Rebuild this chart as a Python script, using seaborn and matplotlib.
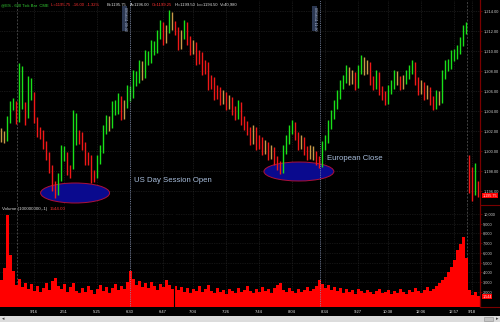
import numpy as np
import matplotlib
matplotlib.use("Agg")
import matplotlib.pyplot as plt
import seaborn as sns
from matplotlib.patches import Ellipse, Rectangle
from matplotlib.ticker import FixedLocator, FuncFormatter
from matplotlib.lines import Line2D

sns.set_theme(style="dark")
plt.rcParams['font.family'] = ['Liberation Sans', 'DejaVu Sans']

# ---------------- data (600 tick bars, ES futures) ----------------
bar_low = [1200.9, 1200.8, 1201.0, 1202.8, 1204.1, 1202.7, 1202.9, 1204.2, 1202.6, 1203.3,
           1205.1, 1202.8, 1201.4, 1201.2, 1200.2, 1199.1, 1197.8, 1196.0, 1195.3, 1195.6,
           1197.0, 1199.0, 1197.6, 1197.3, 1198.2, 1200.6, 1200.7, 1200.1, 1198.6, 1198.6,
           1196.8, 1196.9, 1197.3, 1198.7, 1199.8, 1201.7, 1202.0, 1202.3, 1203.6, 1203.7,
           1203.1, 1203.2, 1204.3, 1205.0, 1205.3, 1206.5, 1206.8, 1207.1, 1207.3, 1208.6,
           1208.8, 1209.6, 1209.8, 1211.2, 1210.6, 1210.8, 1211.8, 1212.1, 1211.6, 1210.1,
           1210.2, 1211.2, 1210.6, 1209.6, 1209.7, 1208.6, 1208.7, 1207.6, 1207.7, 1206.1,
           1206.2, 1205.1, 1205.2, 1204.6, 1204.7, 1204.1, 1204.2, 1203.6, 1203.1, 1203.2,
           1202.6, 1202.1, 1201.6, 1200.6, 1200.7, 1200.1, 1200.2, 1199.6, 1199.7, 1199.1,
           1199.2, 1198.6, 1198.1, 1197.7, 1197.8, 1199.7, 1200.7, 1201.7, 1201.1, 1200.1,
           1200.2, 1199.6, 1199.1, 1199.2, 1199.1, 1198.6, 1198.3, 1198.4, 1200.1, 1200.8,
           1202.2, 1203.2, 1204.2, 1205.2, 1206.2, 1206.8, 1206.6, 1206.7, 1206.1, 1206.3,
           1207.7, 1207.6, 1207.7, 1206.6, 1206.1, 1206.2, 1205.6, 1205.1, 1204.6, 1204.7,
           1205.7, 1206.2, 1206.6, 1206.1, 1206.2, 1206.7, 1207.2, 1207.7, 1206.6, 1205.6,
           1205.7, 1205.1, 1205.2, 1204.6, 1204.1, 1204.2, 1204.6, 1204.8, 1207.2, 1208.0,
           1208.2, 1209.0, 1209.2, 1209.7, 1210.5, 1211.7,
           1195.8, 1195.0, 1195.6, 1195.4]
bar_high = [1202.3, 1202.0, 1203.5, 1205.0, 1205.3, 1205.0, 1208.8, 1208.5, 1204.9, 1207.5,
            1207.3, 1205.9, 1203.4, 1202.4, 1202.1, 1201.0, 1199.9, 1198.6, 1197.0, 1197.8,
            1200.6, 1200.5, 1199.9, 1198.6, 1204.1, 1203.8, 1202.1, 1201.9, 1200.9, 1199.9,
            1199.6, 1198.1, 1199.6, 1200.6, 1202.6, 1203.6, 1203.5, 1205.0, 1205.1, 1205.8,
            1205.5, 1205.1, 1206.6, 1206.5, 1208.1, 1208.0, 1209.1, 1209.0, 1210.1, 1210.0,
            1211.1, 1211.0, 1212.1, 1213.1, 1212.9, 1212.6, 1214.1, 1213.9, 1213.0, 1212.4,
            1212.1, 1213.1, 1212.9, 1211.5, 1211.1, 1210.9, 1210.1, 1209.9, 1209.1, 1208.9,
            1207.6, 1207.4, 1206.6, 1206.4, 1206.1, 1205.9, 1205.6, 1205.4, 1204.5, 1205.1,
            1204.9, 1203.5, 1203.0, 1202.4, 1202.6, 1202.4, 1201.6, 1201.4, 1201.1, 1200.9,
            1200.6, 1200.4, 1199.5, 1199.0, 1200.6, 1201.6, 1202.6, 1203.1, 1202.9, 1201.9,
            1201.6, 1201.4, 1200.5, 1200.6, 1200.5, 1200.0, 1199.5, 1201.0, 1201.6, 1203.1,
            1204.1, 1205.1, 1206.1, 1207.1, 1207.6, 1208.6, 1208.4, 1208.1, 1207.9, 1208.6,
            1209.6, 1209.4, 1209.1, 1208.9, 1207.5, 1208.1, 1207.9, 1206.5, 1206.0, 1206.6,
            1207.1, 1208.1, 1208.0, 1207.5, 1207.6, 1208.1, 1208.6, 1209.1, 1208.9, 1207.4,
            1207.1, 1206.9, 1206.6, 1206.4, 1205.5, 1206.1, 1206.0, 1208.1, 1209.1, 1209.2,
            1210.1, 1210.2, 1210.6, 1211.4, 1212.6, 1212.9,
            1199.6, 1198.4, 1198.8, 1197.0]
volume = [3200, 4500, 9900, 5800, 4200, 2700, 3300, 2500, 2900, 2300,
          2800, 2100, 2600, 2000, 2400, 2900, 2200, 3100, 3400, 2600,
          2300, 2800, 2000, 2500, 2900, 2100, 1900, 2400, 2000, 2600,
          2200, 1800, 2300, 2700, 2100, 2500, 1900, 2400, 2800, 2200,
          2600, 2300, 3000, 4200, 3300, 2700, 3100, 2500, 2900, 2400,
          3000, 2600, 2200, 2800, 2500, 3200, 2700, 2300, 2600, 2200,
          2500, 2000, 2400, 1900, 2300, 2100, 2600, 2000, 2300, 2700,
          2100, 1900, 2400, 2000, 2200, 1800, 2300, 2100, 1900, 2400,
          2000, 2200, 2600, 2100, 1900, 2300, 2000, 2500, 2100, 2300,
          1900, 2400, 2700, 2900, 2200, 2000, 2400, 2100, 1900, 2300,
          2000, 2200, 2500, 2100, 2300, 2600, 3200, 2800, 2400, 2700,
          2200, 2500, 2100, 2400, 1900, 2300, 2000, 2200, 1800, 2300,
          2100, 1900, 2200, 2000, 1800, 2100, 2300, 1900, 2000, 2200,
          1800, 2100, 1900, 2300, 2000, 1800, 2200, 2000, 2400, 2100,
          1900, 2200, 2500, 2100, 2300, 2600, 2900, 3200, 3500, 4000,
          4600, 5300, 6300, 6900, 7600, 5500,
          2200, 1700, 2000, 1544]

time_ticks = [11, 21, 32, 43, 54, 64, 75, 86, 97, 108, 119, 129, 140, 151, 157]
time_labels = ["9/16", "2:51", "5:25", "6:30", "6:47", "7:04", "7:26", "7:44",
               "8:04", "8:34", "9:27", "10:38", "12:06", "12:57", "9/18"]
price_ticks = [1196, 1198, 1200, 1202, 1204, 1206, 1208, 1210, 1212, 1214]
volume_ticks = [2000, 3000, 4000, 5000, 6000, 7000, 8000, 9000, 10000]
last_price = 1195.75
last_volume = 1544
us_open_bar = 43
euro_close_bar = 106.3
day_breaks = [5.2, 155.3]

# ---------------- figure ----------------
W, H = 500, 322
fig = plt.figure(figsize=(W / 100, H / 100), dpi=100, facecolor="black")
ax_p = fig.add_axes([0, 117 / H, 480 / W, 205 / H])
ax_v = fig.add_axes([0, 15 / H, 480 / W, 102 / H])

idx = np.arange(len(bar_low))
low = np.array(bar_low)
high = np.array(bar_high)
mid = (low + high) / 2
diff = np.diff(mid, prepend=mid[0])
colors = np.where(diff > 0.25, "#19e019", np.where(diff < -0.25, "#f01818", "#c89a48"))

for ax in (ax_p, ax_v):
    ax.set_facecolor("black")
    for s in ("top", "left", "bottom"):
        ax.spines[s].set_visible(False)
    ax.spines["right"].set_color("#7a0000")
    ax.spines["right"].set_linewidth(0.9)
    ax.set_xlim(-1 / 3, 160 - 1 / 3)
    ax.grid(False)

# grid
for t in time_ticks:
    for ax in (ax_p, ax_v):
        ax.axvline(t, color="#2e2e2e", lw=0.5, ls=(0, (1, 1.5)), zorder=0)
for p in price_ticks:
    ax_p.axhline(p, color="#2e2e2e", lw=0.5, ls=(0, (1, 1.5)), zorder=0)
for v in volume_ticks:
    ax_v.axhline(v, color="#262626", lw=0.5, ls=(0, (1, 1.5)), zorder=0)

# price panel
ax_p.set_ylim(1194.57, 1215.07)
ax_p.add_patch(Ellipse((24.7, 1195.77), 23, 2.0, facecolor="#0a0a8e",
                       edgecolor="#b0103a", lw=0.7, zorder=1))
ax_p.add_patch(Ellipse((99.3, 1197.92), 23.3, 1.9, facecolor="#0a0a8e",
                       edgecolor="#b0103a", lw=0.7, zorder=1))
ax_p.vlines(idx, low, high, colors=colors, lw=1.0, zorder=2)

ax_p.yaxis.tick_right()
ax_p.yaxis.set_major_locator(FixedLocator(price_ticks))
ax_p.yaxis.set_major_formatter(FuncFormatter(lambda v, _: f"{v:,.2f}"))
ax_p.tick_params(axis="y", length=1.5, width=0.5, color="#7a0000", pad=0.8,
                 labelsize=2.8, labelcolor="#d0d0d0")
ax_p.set_xticks([])

# volume panel
sns.barplot(x=idx, y=volume, native_scale=True, width=1.0, color="#ff0000",
            saturation=1, errorbar=None, linewidth=0, ax=ax_v, zorder=2)
ax_v.set_xlim(-1 / 3, 160 - 1 / 3)
ax_v.set_ylim(460, 10920)
ax_v.set_xlabel("")
ax_v.set_ylabel("")
ax_v.axvline(57.7, color="black", lw=0.8, zorder=3)
ax_v.yaxis.tick_right()
ax_v.yaxis.set_major_locator(FixedLocator(volume_ticks))
ax_v.yaxis.set_major_formatter(FuncFormatter(lambda v, _: f"{v:,.0f}"))
ax_v.tick_params(axis="y", length=1.5, width=0.5, color="#7a0000", pad=0.8,
                 labelsize=2.8, labelcolor="#d0d0d0")
ax_v.xaxis.set_major_locator(FixedLocator(time_ticks))
ax_v.set_xticklabels(time_labels)
ax_v.tick_params(axis="x", length=0, pad=2.2, labelsize=3.0, labelcolor="#e8e8e8")

# event and day lines
for ax in (ax_p, ax_v):
    for b in (us_open_bar, euro_close_bar):
        ax.axvline(b, color="#8796b8", lw=0.6, ls=(0, (1, 1.2)), zorder=4)
    for b in day_breaks:
        ax.axvline(b, color="#5a5a5a", lw=0.5, ls=(0, (3, 2)), zorder=0.5)

# rotated timestamp labels
for b, lab in ((us_open_bar, "09/16/11 09:30"), (euro_close_bar, "09/16/11 11:30")):
    ax_p.text(b - 1.8, 1213.2, lab, rotation=270, fontsize=2.6, color="#b8c4dc",
              ha="center", va="center", zorder=5,
              bbox=dict(boxstyle="square,pad=0.15", facecolor="#2c3852", edgecolor="none"))

# annotations
ax_p.text(44.3, 1197.07, "US Day Session Open", fontsize=5.6, color="#a8bedc",
          ha="left", va="center", zorder=5)
ax_p.text(108.7, 1199.17, "European Close", fontsize=5.6, color="#a8bedc",
          ha="left", va="center", zorder=5)

# last value boxes
ax_p.text(1.005, last_price - 0.05, f"{last_price:,.2f}", transform=ax_p.get_yaxis_transform(),
          fontsize=2.7, color="#ffe0e0", ha="left", va="top", clip_on=False,
          bbox=dict(boxstyle="square,pad=0.15", facecolor="#ff0000", edgecolor="none"))
ax_v.text(1.005, last_volume, f"{last_volume:,}", transform=ax_v.get_yaxis_transform(),
          fontsize=2.7, color="#ffe0e0", ha="left", va="center", clip_on=False,
          bbox=dict(boxstyle="square,pad=0.15", facecolor="#ff0000", edgecolor="none"))

# header text
header = [(1, "@ES - 600 Tick Bar  CME", "#33cc33"),
          (51, "L=1195.75  -16.00  -1.32%", "#ff3030"),
          (107, "B=1195.75", "#e0e0e0"),
          (130, "A=1196.00", "#e0e0e0"),
          (152, "O=1199.25", "#ff3030"),
          (175, "Hi=1199.50", "#e0e0e0"),
          (197, "Lo=1194.50", "#e0e0e0"),
          (220, "V=40,980", "#e0e0e0")]
for x, s, c in header:
    fig.text(x / W, 1 - 5 / H, s, fontsize=3.0, color=c, ha="left", va="center")

fig.text(2 / W, 1 - 209 / H, "Volume (100000000,-1)", fontsize=3.2, color="#d8d8d8",
         ha="left", va="center")
fig.text(50 / W, 1 - 209 / H, "1544.00", fontsize=3.2, color="#ff3030",
         ha="left", va="center")

# separator on the right scale area
fig.add_artist(Line2D([480 / W, 1], [117 / H, 117 / H], color="#7a0000", lw=0.8))
fig.add_artist(Line2D([480 / W, 1], [15 / H, 15 / H], color="#7a0000", lw=0.8))

# bottom scroll strip
fig.add_artist(Rectangle((0, 0), 1, 6 / H, transform=fig.transFigure,
                         facecolor="#dcdcdc", edgecolor="none"))
fig.add_artist(Rectangle((484 / W, 0.6 / H), 9 / W, 4.8 / H, transform=fig.transFigure,
                         facecolor="#c4c4c4", edgecolor="#909090", lw=0.4))
fig.text(2 / W, 3 / H, "◂", fontsize=3.5, color="#404040", ha="left", va="center")
fig.text(497 / W, 3 / H, "▸", fontsize=3.5, color="#404040", ha="center", va="center")

fig.savefig("out.png", dpi=100, facecolor="black")
